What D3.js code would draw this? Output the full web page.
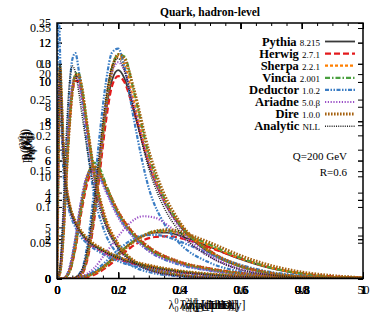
<!DOCTYPE html>
<html>
<head>
<meta charset="utf-8">
<script src="https://cdn.jsdelivr.net/npm/d3@7"></script>
<style>
  body { margin: 0; background: #fff; }
  svg { display: block; font-family: "Liberation Serif", "DejaVu Serif", serif; }
</style>
</head>
<body>
<svg width="374" height="324"></svg>
<script>
const width = 374, height = 324;
const margin = {top: 23, right: 11, bottom: 45.5, left: 57};
const plotW = width - margin.left - margin.right;
const plotH = height - margin.top - margin.bottom;

// generators, legend order
const generators = ["Pythia", "Herwig", "Sherpa", "Vincia", "Deductor", "Ariadne", "Dire", "Analytic"];
const versions = ["8.215", "2.7.1", "2.2.1", "2.001", "1.0.2", "5.0.β", "1.0.0", "NLL"];
const colors = ["#3a3a3a", "#e31a1c", "#ff7f00", "#4aa03f", "#3b7dc4", "#9a4fc6", "#a5610f", "#222222"];
const dashes = [null, "6 3", "3 2", "5 2 1.5 2", "4 1.5 1.5 1.5 1.5 1.5", "1.2 1.6", "1.6 1.4", "1 1.2"];
const strokeW = [1.8, 2.2, 2.2, 2.2, 2.2, 2.1, 3, 1.6];

// multiplicity lambda_0^0
const multX = [0, 2, 4, 6, 8, 10, 12, 14, 16, 18, 20, 22, 25, 30, 35, 40, 45, 50];
const multY = {
  Pythia:   [0, 0, 0.002, 0.008, 0.020, 0.035, 0.049, 0.059, 0.064, 0.064, 0.060, 0.054, 0.044, 0.027, 0.014, 0.006, 0.002, 0.001],
  Herwig:   [0, 0, 0.001, 0.005, 0.015, 0.029, 0.043, 0.053, 0.058, 0.059, 0.057, 0.052, 0.043, 0.028, 0.015, 0.007, 0.003, 0.001],
  Sherpa:   [0, 0, 0.002, 0.007, 0.019, 0.034, 0.048, 0.059, 0.065, 0.066, 0.063, 0.057, 0.046, 0.028, 0.015, 0.007, 0.002, 0.001],
  Vincia:   [0, 0, 0.002, 0.007, 0.019, 0.034, 0.049, 0.060, 0.066, 0.067, 0.064, 0.058, 0.047, 0.029, 0.015, 0.007, 0.002, 0.001],
  Deductor: [0, 0, 0.002, 0.010, 0.024, 0.040, 0.053, 0.060, 0.061, 0.058, 0.052, 0.045, 0.034, 0.019, 0.009, 0.004, 0.001, 0],
  Ariadne:  [0, 0, 0.003, 0.014, 0.036, 0.059, 0.078, 0.087, 0.085, 0.075, 0.061, 0.047, 0.030, 0.012, 0.004, 0.001, 0, 0],
  Dire:     [0, 0, 0.002, 0.007, 0.018, 0.033, 0.048, 0.059, 0.066, 0.068, 0.066, 0.060, 0.050, 0.032, 0.018, 0.009, 0.004, 0.001]
};

// LHA lambda_0.5^1
const lhaX = [0, 0.05, 0.08, 0.1, 0.12, 0.14, 0.16, 0.18, 0.2, 0.22, 0.25, 0.3, 0.35, 0.4, 0.5, 0.6, 0.7, 0.8, 1.0];
const lhaY = {
  Pythia:   [0, 0, 0.3, 1.3, 3.2, 5.9, 8.5, 10.1, 10.6, 10.2, 8.6, 5.8, 3.9, 2.7, 1.3, 0.6, 0.25, 0.08, 0],
  Herwig:   [0, 0, 0.2, 1.0, 2.8, 5.4, 8.0, 9.8, 10.3, 10.0, 8.6, 5.9, 4.0, 2.8, 1.4, 0.65, 0.28, 0.1, 0],
  Sherpa:   [0, 0, 0.3, 1.3, 3.4, 6.3, 9.0, 10.8, 11.3, 10.9, 9.1, 6.0, 4.0, 2.8, 1.35, 0.6, 0.25, 0.08, 0],
  Vincia:   [0, 0, 0.25, 1.2, 3.2, 6.0, 8.8, 10.7, 11.4, 11.3, 9.6, 6.3, 4.1, 2.8, 1.35, 0.6, 0.25, 0.08, 0],
  Deductor: [0, 0, 0.4, 1.8, 4.3, 7.4, 10.0, 11.5, 11.7, 10.8, 8.2, 4.6, 2.8, 1.8, 0.8, 0.35, 0.12, 0.04, 0],
  Ariadne:  [0, 0, 0.3, 1.3, 3.3, 6.1, 8.7, 10.5, 11.0, 10.6, 8.9, 5.9, 3.9, 2.6, 1.2, 0.5, 0.2, 0.06, 0],
  Dire:     [0, 0, 0.25, 1.2, 3.1, 5.9, 8.7, 10.6, 11.4, 11.2, 9.7, 6.5, 4.3, 2.9, 1.4, 0.65, 0.28, 0.09, 0],
  Analytic: [0, 0, 0.4, 1.6, 3.8, 6.6, 9.2, 10.8, 11.2, 10.6, 8.7, 5.6, 3.6, 2.4, 1.1, 0.45, 0.18, 0.05, 0]
};

// width lambda_1^1
const widthX = [0, 0.01, 0.02, 0.03, 0.04, 0.05, 0.06, 0.07, 0.08, 0.1, 0.12, 0.15, 0.2, 0.25, 0.3, 0.4, 0.5, 0.7, 1.0];
const widthY = {
  Pythia:   [0, 0.3, 2.0, 4.8, 7.2, 8.8, 9.4, 9.4, 8.8, 6.8, 4.9, 3.0, 1.5, 0.8, 0.45, 0.15, 0.05, 0.01, 0],
  Herwig:   [0, 0.3, 1.8, 4.5, 7.0, 8.6, 9.2, 9.2, 8.7, 6.9, 5.0, 3.1, 1.5, 0.8, 0.45, 0.15, 0.05, 0.01, 0],
  Sherpa:   [0, 0.3, 2.0, 4.7, 7.1, 8.8, 9.5, 9.5, 8.9, 6.9, 5.0, 3.1, 1.55, 0.8, 0.45, 0.15, 0.05, 0.01, 0],
  Vincia:   [0, 0.3, 1.9, 4.6, 7.1, 8.8, 9.5, 9.6, 9.0, 7.0, 5.0, 3.0, 1.5, 0.8, 0.45, 0.15, 0.05, 0.01, 0],
  Deductor: [0, 0.4, 2.5, 5.8, 8.6, 10.2, 10.5, 9.8, 8.6, 6.0, 4.0, 2.4, 1.1, 0.55, 0.3, 0.1, 0.03, 0, 0],
  Ariadne:  [0, 0.4, 2.3, 5.2, 7.6, 9.0, 9.4, 9.1, 8.4, 6.5, 4.7, 2.9, 1.4, 0.75, 0.4, 0.12, 0.04, 0.01, 0],
  Dire:     [0, 0.3, 1.9, 4.6, 7.0, 8.7, 9.4, 9.5, 9.0, 7.0, 5.1, 3.2, 1.6, 0.85, 0.5, 0.17, 0.06, 0.01, 0],
  Analytic: [0, 0.6, 3.2, 6.6, 9.0, 9.9, 9.6, 8.8, 7.8, 5.9, 4.3, 2.8, 1.4, 0.75, 0.4, 0.12, 0.04, 0, 0]
};

// thrust lambda_2^1
const thrustX = [0, 0.005, 0.01, 0.015, 0.02, 0.03, 0.04, 0.06, 0.08, 0.1, 0.15, 0.2, 0.3, 0.4, 0.5, 0.7, 1.0];
const thrustY = {
  Pythia:   [0, 14, 20.5, 17, 13, 9, 7.2, 5.4, 4.4, 3.7, 2.7, 2.0, 1.2, 0.7, 0.4, 0.15, 0.03],
  Herwig:   [0, 12, 19, 17.5, 13.5, 9.3, 7.4, 5.5, 4.4, 3.6, 2.6, 1.9, 1.1, 0.6, 0.35, 0.12, 0.02],
  Sherpa:   [0, 13.5, 20.8, 17.2, 13.2, 9.1, 7.3, 5.5, 4.5, 3.8, 2.8, 2.1, 1.25, 0.72, 0.42, 0.16, 0.03],
  Vincia:   [0, 13, 21, 17.5, 13.3, 9.0, 7.2, 5.4, 4.4, 3.7, 2.75, 2.05, 1.2, 0.7, 0.4, 0.15, 0.03],
  Deductor: [0, 27, 22, 15, 11, 8, 6.6, 5, 4, 3.4, 2.4, 1.7, 0.9, 0.5, 0.25, 0.08, 0.01],
  Ariadne:  [0, 15, 20, 16, 12.5, 8.8, 7.0, 5.3, 4.3, 3.6, 2.6, 1.9, 1.1, 0.6, 0.33, 0.1, 0.02],
  Dire:     [0, 13.5, 20.6, 17.4, 13.4, 9.2, 7.4, 5.6, 4.6, 3.9, 2.85, 2.1, 1.3, 0.75, 0.45, 0.17, 0.03],
  Analytic: [0, 16, 21, 16.5, 12.5, 8.8, 7.1, 5.4, 4.4, 3.7, 2.7, 2.0, 1.15, 0.65, 0.35, 0.1, 0.01]
};

// pTD lambda_0^2
const ptdX = [0, 0.02, 0.04, 0.06, 0.08, 0.1, 0.12, 0.14, 0.16, 0.2, 0.25, 0.3, 0.4, 0.5, 0.6, 0.8, 1.0];
const ptdY = {
  Pythia:   [0, 0, 0.4, 1.8, 3.8, 5.2, 5.6, 5.3, 4.6, 3.3, 2.2, 1.5, 0.8, 0.45, 0.25, 0.07, 0.02],
  Herwig:   [0, 0, 0.3, 1.5, 3.4, 4.9, 5.5, 5.3, 4.7, 3.4, 2.3, 1.6, 0.85, 0.5, 0.28, 0.08, 0.02],
  Sherpa:   [0, 0, 0.4, 1.7, 3.7, 5.2, 5.7, 5.4, 4.7, 3.3, 2.2, 1.5, 0.8, 0.45, 0.25, 0.07, 0.02],
  Vincia:   [0, 0, 0.3, 1.6, 3.6, 5.2, 5.9, 5.6, 4.8, 3.3, 2.2, 1.5, 0.8, 0.45, 0.25, 0.07, 0.02],
  Deductor: [0, 0, 0.5, 2.0, 4.0, 5.3, 5.6, 5.2, 4.5, 3.2, 2.1, 1.4, 0.7, 0.4, 0.2, 0.05, 0.01],
  Ariadne:  [0, 0, 0.5, 2.1, 4.1, 5.3, 5.5, 5.1, 4.4, 3.1, 2.1, 1.4, 0.75, 0.4, 0.22, 0.06, 0.01],
  Dire:     [0, 0, 0.35, 1.7, 3.7, 5.2, 5.7, 5.4, 4.7, 3.4, 2.3, 1.6, 0.85, 0.5, 0.27, 0.08, 0.02]
};

// axis ticks
const unitTicks = [0, 0.2, 0.4, 0.6, 0.8, 1];
const multTicks = [0, 10, 20, 30, 40, 50];
const multYTicks = [0, 0.05, 0.1, 0.15, 0.2, 0.25, 0.3, 0.35];
const lhaYTicks = [0, 2, 4, 6, 8, 10, 12];
const widthYTicks = [0, 2, 4, 6, 8, 10];
const thrustYTicks = [0, 5, 10, 15, 20, 25];

const panels = [
  {xs: multX, ys: multY, xDom: [0, 50], yDom: [0, 0.357], xTicks: multTicks, yTicks: multYTicks,
   sup: "0", sub: "0", name: "[multiplicity]"},
  {xs: lhaX, ys: lhaY, xDom: [0, 1], yDom: [0, 13], xTicks: unitTicks, yTicks: lhaYTicks,
   sup: "1", sub: "0.5", name: "[LHA]"},
  {xs: widthX, ys: widthY, xDom: [0, 1], yDom: [0, 11.9], xTicks: unitTicks, yTicks: widthYTicks,
   sup: "1", sub: "1", name: "[width]"},
  {xs: thrustX, ys: thrustY, xDom: [0, 1], yDom: [0, 25], xTicks: unitTicks, yTicks: thrustYTicks,
   sup: "1", sub: "2", name: "[thrust]"},
  {xs: ptdX, ys: ptdY, xDom: [0, 1], yDom: [0, 13], xTicks: unitTicks, yTicks: lhaYTicks,
   sup: "2", sub: "0", name: "[p_T^D]"}
];

const svg = d3.select("svg");

svg.append("defs").append("clipPath").attr("id", "plotclip")
  .append("rect").attr("width", plotW).attr("height", plotH);

const g = svg.append("g").attr("transform", `translate(${margin.left},${margin.top})`);

panels.forEach(p => {
  p.x = d3.scaleLinear().domain(p.xDom).range([0, plotW]);
  p.y = d3.scaleLinear().domain(p.yDom).range([plotH, 0]);
});

// ticks, all panels drawn on top of each other
const fmt = d => String(d);
panels.forEach(p => {
  g.append("g").attr("class", "yl")
    .call(d3.axisLeft(p.y).tickValues(p.yTicks).tickFormat(fmt).tickSizeInner(-5).tickSizeOuter(0).tickPadding(6));
  g.append("g").attr("transform", `translate(${plotW},0)`)
    .call(d3.axisRight(p.y).tickValues(p.yTicks).tickFormat("").tickSizeInner(-5).tickSizeOuter(0));
  g.append("g").attr("transform", `translate(0,${plotH})`)
    .call(d3.axisBottom(p.x).tickValues(p.xTicks).tickFormat(fmt).tickSizeInner(-6).tickSizeOuter(0).tickPadding(7));
  g.append("g")
    .call(d3.axisTop(p.x).tickValues(p.xTicks).tickFormat("").tickSizeInner(-6).tickSizeOuter(0));
});
// minor x ticks
const minor = d3.range(0, 1.0001, 0.05);
const xu = panels[1].x;
g.append("g").attr("transform", `translate(0,${plotH})`)
  .call(d3.axisBottom(xu).tickValues(minor).tickFormat("").tickSizeInner(-3).tickSizeOuter(0));
g.append("g")
  .call(d3.axisTop(xu).tickValues(minor).tickFormat("").tickSizeInner(-3).tickSizeOuter(0));

g.selectAll(".domain").remove();
g.selectAll(".tick line").attr("stroke", "#000").attr("stroke-width", 1);
g.selectAll(".tick text").attr("font-size", "12px").attr("fill", "#000")
  .style("font-family", "'Liberation Serif', serif");

// curves
const curves = g.append("g").attr("clip-path", "url(#plotclip)");
generators.forEach((gen, i) => {
  panels.forEach(p => {
    if (!p.ys[gen]) return;
    const line = d3.line()
      .x((d, k) => p.x(p.xs[k]))
      .y(d => p.y(d))
      .curve(d3.curveMonotoneX);
    curves.append("path")
      .attr("d", line(p.ys[gen]))
      .attr("fill", "none")
      .attr("stroke", colors[i])
      .attr("stroke-width", strokeW[i])
      .attr("stroke-dasharray", dashes[i]);
  });
});

// frame
g.append("rect").attr("width", plotW).attr("height", plotH)
  .attr("fill", "none").attr("stroke", "#000").attr("stroke-width", 1.5);

// title
svg.append("text").attr("x", margin.left + plotW / 2).attr("y", 16)
  .attr("text-anchor", "middle").attr("font-size", "11.5px").attr("font-weight", "bold")
  .text("Quark, hadron-level");

// axis titles
panels.forEach((p, i) => {
  const t = svg.append("text")
    .attr("x", margin.left + plotW / 2 + (i % 2 ? 3 : -3))
    .attr("y", 309)
    .attr("text-anchor", "middle")
    .attr("font-size", "12px");
  t.append("tspan").text("λ");
  t.append("tspan").attr("font-size", "8px").attr("dy", -5).text(p.sup);
  t.append("tspan").attr("font-size", "8px").attr("dy", 8).attr("dx", -4).text(p.sub);
  t.append("tspan").attr("dy", -3).text(" " + p.name);

  const yt = svg.append("text")
    .attr("transform", `translate(${28 + i},${146}) rotate(-90)`)
    .attr("text-anchor", "middle")
    .attr("font-size", "12px")
    .attr("font-weight", i === 2 ? "bold" : null);
  yt.append("tspan").text("p");
  yt.append("tspan").attr("font-size", "8px").attr("dy", 3).text("q");
  yt.append("tspan").attr("dy", -3).text("(λ");
  yt.append("tspan").attr("font-size", "8px").attr("dy", -4).text(p.sup);
  yt.append("tspan").attr("font-size", "8px").attr("dy", 7).attr("dx", -4).text(p.sub);
  yt.append("tspan").attr("dy", -3).text(")");
});

// legend
const legend = svg.append("g");
generators.forEach((gen, i) => {
  const ly = 45.5 + i * 12.1;
  const t = legend.append("text").attr("x", 320).attr("y", ly)
    .attr("text-anchor", "end");
  t.append("tspan").attr("font-size", "12.5px").attr("font-weight", "bold").text(gen + " ");
  t.append("tspan").attr("font-size", "9px").text(versions[i]);
  legend.append("line")
    .attr("x1", 325).attr("x2", 355).attr("y1", ly - 4).attr("y2", ly - 4)
    .attr("stroke", colors[i]).attr("stroke-width", strokeW[i])
    .attr("stroke-dasharray", dashes[i]);
});

svg.append("text").attr("x", 347).attr("y", 160).attr("text-anchor", "end")
  .attr("font-size", "11px").text("Q=200 GeV");
svg.append("text").attr("x", 347).attr("y", 176).attr("text-anchor", "end")
  .attr("font-size", "11px").text("R=0.6");
</script>
</body>
</html>
